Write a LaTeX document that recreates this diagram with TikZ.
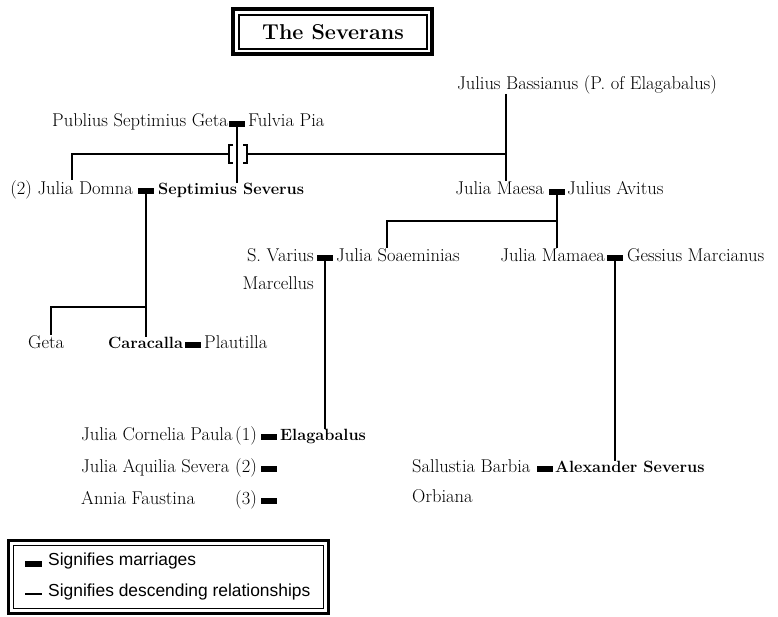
\documentclass[tikz,border=0pt]{standalone}
\usepackage{fontspec}
\newfontfamily\legendfont{Liberation Sans}
\begin{document}
\begin{tikzpicture}[x=1pt,y=-1pt,
  person/.style={inner sep=0pt, font=\fontsize{18.5}{22}\selectfont},
  lperson/.style={person, anchor=mid west},
  rperson/.style={person, anchor=mid east},
  ruler/.style={person, anchor=mid west, font=\fontsize{16.3}{20}\selectfont\bfseries},
  marr/.style={rectangle, fill=black, draw=none, inner sep=0pt, minimum width=16pt, minimum height=6.5pt},
  desc/.style={line width=2.5pt},
  legtext/.style={inner sep=0pt, anchor=mid west, font=\legendfont\fontsize{17.4}{20}\selectfont}]
\useasboundingbox (0,0) rectangle (778,616);

% title
\draw[line width=3.5pt] (233,9) rectangle (432,54);
\draw[line width=1.2pt] (239,15) rectangle (427,49);
\node[inner sep=0pt, font=\fontsize{21.5}{25}\selectfont\bfseries] (title) at (333,32) {The Severans};

% first generation
\node[rperson] (publius) at (228,124) {Publius Septimius Geta};
\node[marr] (mpf) at (237,124) {};
\node[lperson] (fulvia) at (248,124) {Fulvia Pia};
\node[person, anchor=mid] (bass) at (587,87) {Julius Bassianus (P. of Elagabalus)};

% second generation
\node[rperson] (domna) at (133,192) {(2) Julia Domna};
\node[marr] (mds) at (146,191) {};
\node[ruler] (severus) at (158,192) {Septimius Severus};
\node[rperson] (maesa) at (544,192) {Julia Maesa};
\node[marr] (mma) at (557,192) {};
\node[lperson] (avitus) at (567,192) {Julius Avitus};

% third generation
\node[rperson] (varius) at (314,259) {S. Varius};
\node[rperson] (marcellus) at (314,287) {Marcellus};
\node[marr] (mvs) at (325,258) {};
\node[lperson] (soaem) at (336,259) {Julia Soaeminias};
\node[rperson] (mamaea) at (605,259) {Julia Mamaea};
\node[marr] (mmg) at (615,258) {};
\node[lperson] (gessius) at (627,259) {Gessius Marcianus};
\node[lperson] (geta) at (28,346) {Geta};
\node[ruler] (caracalla) at (108,346) {Caracalla};
\node[marr] (mcp) at (193,345) {};
\node[lperson] (plautilla) at (204,346) {Plautilla};

% fourth generation
\node[lperson] (cornelia) at (81,438) {Julia Cornelia Paula};
\node[rperson] (n1) at (257,438) {(1)};
\node[marr] (me1) at (269,437) {};
\node[ruler] (elagabalus) at (280,438) {Elagabalus};
\node[lperson] (aquilia) at (81,470) {Julia Aquilia Severa};
\node[rperson] (n2) at (257,470) {(2)};
\node[marr] (me2) at (269,469) {};
\node[lperson] (annia) at (81,502) {Annia Faustina};
\node[rperson] (n3) at (257,502) {(3)};
\node[marr] (me3) at (269,501) {};
\node[lperson] (sallustia) at (412,470) {Sallustia Barbia};
\node[marr] (msa) at (545,469) {};
\node[ruler] (alexander) at (555,470) {Alexander Severus};
\node[lperson] (orbiana) at (412,500) {Orbiana};

% junction points of the descent lines
\coordinate (jb) at (506,154);
\coordinate (jd) at (72,154);
\coordinate (brL) at (229,154);
\coordinate (brR) at (247,154);
\coordinate (js) at (146,307);
\coordinate (jg) at (51,307);
\coordinate (jm) at (557,221);
\coordinate (jv) at (387,221);

% descent lines
\draw[desc] (mpf.center) -- (mpf.center |- severus.north);
\draw[desc] (bass.south -| jb) -- (maesa.north -| jb);
\draw[desc] (jb) -- (brR);
\draw[desc] (brL) -- (jd) -- (jd |- domna.north);
% crossing bracket
\draw[line width=2pt] (233,145) -- (229,145) -- (229,163) -- (233,163);
\draw[line width=2pt] (243,145) -- (247,145) -- (247,163) -- (243,163);

\draw[desc] (mds.center) -- (js) -- (js |- caracalla.north);
\draw[desc] (js) -- (jg) -- (jg |- geta.north);
\draw[desc] (mma.center) -- (jm) -- (jm |- mamaea.north);
\draw[desc] (jm) -- (jv) -- (jv |- soaem.north);
\draw[desc] (mvs.center) -- (mvs.center |- elagabalus.north);
\draw[desc] (mmg.center) -- (mmg.center |- alexander.north);

% legend
\draw[line width=3pt] (8,540) rectangle (328,613);
\draw[line width=1pt] (13,545) rectangle (323,608);
\node[marr, minimum width=17pt] (legm) at (33.5,564) {};
\node[legtext] (legmt) at (48,563) {Signifies marriages};
\coordinate (legd1) at (25,594);
\coordinate (legd2) at (42,594);
\draw[desc, line width=2.2pt] (legd1) -- (legd2);
\node[legtext] (legdt) at (48,594) {Signifies descending relationships};
\end{tikzpicture}
\end{document}
